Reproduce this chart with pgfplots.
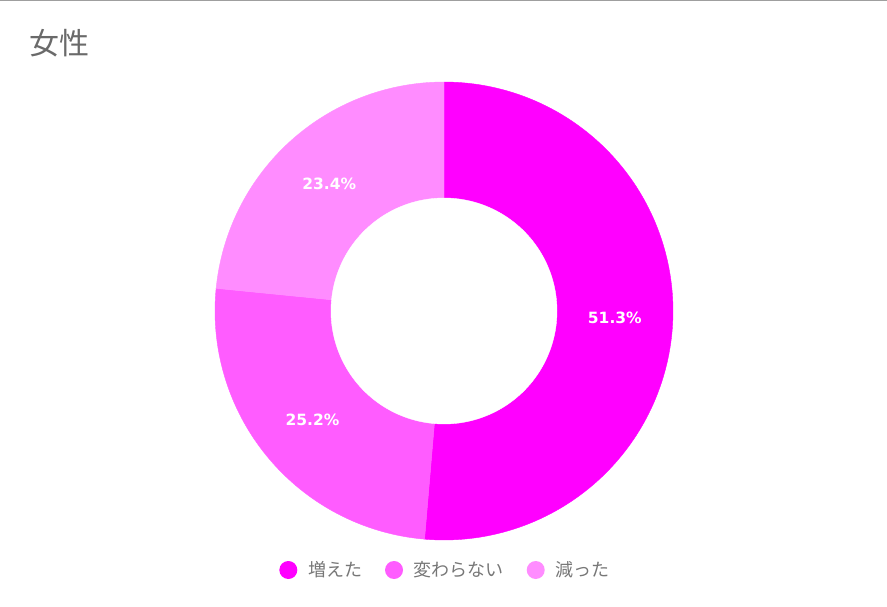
\documentclass[border=0pt]{standalone}
\usepackage{pgfplots}
\pgfplotsset{compat=1.18}
\usepackage{fontspec}
\setmainfont{DejaVu Sans}
\newfontfamily\cjk{Noto Sans CJK JP}
\definecolor{c1}{HTML}{FF00FF}
\definecolor{c2}{HTML}{FF5CFF}
\definecolor{c3}{HTML}{FF8CFF}
\definecolor{txt}{HTML}{6A6A6A}
\definecolor{legtxt}{HTML}{777777}
\def\va{51.3}\def\vb{25.2}\def\vc{23.4}
\begin{document}
\begin{tikzpicture}
\pgfmathsetmacro\tot{\va+\vb+\vc}
\pgfmathsetmacro\aA{90}
\pgfmathsetmacro\aB{90-360*(\va/\tot)}
\pgfmathsetmacro\aC{\aB-360*(\vb/\tot)}
\pgfmathsetmacro\aD{\aC-360*(\vc/\tot)}
\pgfmathsetmacro\mA{(\aA+\aB)/2}
\pgfmathsetmacro\mB{(\aB+\aC)/2}
\pgfmathsetmacro\mC{(\aC+\aD)/2}
\path[use as bounding box] (0,0) rectangle (887pt,606pt);
\begin{axis}[at={(0,0)}, anchor=south west, x=1pt, y=1pt,
  xmin=0, xmax=887, ymin=0, ymax=606, hide axis, clip=false, no markers,
  scale only axis,
  legend columns=3,
  legend style={at={(0.501,0.0594)}, anchor=center, draw=none, fill=none,
    font=\cjk\fontsize{18}{18}\selectfont, text=legtxt,
    nodes={inner sep=0pt},
    /tikz/every even column/.append style={column sep=23pt}},
  legend image code/.code={\fill[#1, draw=none] (0pt,0pt) circle (9pt); \path (19.5pt,0pt);},
]
\addplot[forget plot, fill=c1, draw=c1, line width=0.4pt, domain=\aB:\aA, samples=150, variable=\t]
  ({444+229*cos(t)},{295+229*sin(t)}) -- (axis cs:444,295) -- cycle;
\addplot[forget plot, fill=c2, draw=c2, line width=0.4pt, domain=\aC:\aB, samples=100, variable=\t]
  ({444+229*cos(t)},{295+229*sin(t)}) -- (axis cs:444,295) -- cycle;
\addplot[forget plot, fill=c3, draw=c3, line width=0.4pt, domain=\aD:\aC, samples=100, variable=\t]
  ({444+229*cos(t)},{295+229*sin(t)}) -- (axis cs:444,295) -- cycle;
\addplot[forget plot, fill=white, draw=white, line width=0.4pt, domain=0:360, samples=180, variable=\t]
  ({444+113*cos(t)},{295+113*sin(t)}) -- cycle;
\node[font=\bfseries\fontsize{15.5}{15.5}\selectfont, text=white] at (axis cs:{444+171*cos(\mA)},{295+171*sin(\mA)}) {\va\%};
\node[font=\bfseries\fontsize{15.5}{15.5}\selectfont, text=white] at (axis cs:{444+171*cos(\mB)},{295+171*sin(\mB)}) {\vb\%};
\node[font=\bfseries\fontsize{15.5}{15.5}\selectfont, text=white] at (axis cs:{444+171*cos(\mC)},{295+171*sin(\mC)}) {\vc\%};
\node[anchor=west, inner sep=0pt, font=\cjk\fontsize{30}{30}\selectfont, text=txt] at (axis cs:29,563) {女性};
\draw[gray!75, line width=1.5pt] (axis cs:0,606) -- (axis cs:887,606);
\addlegendimage{fill=c1}\addlegendentry{増えた}
\addlegendimage{fill=c2}\addlegendentry{変わらない}
\addlegendimage{fill=c3}\addlegendentry{減った}
\end{axis}
\end{tikzpicture}
\end{document}
